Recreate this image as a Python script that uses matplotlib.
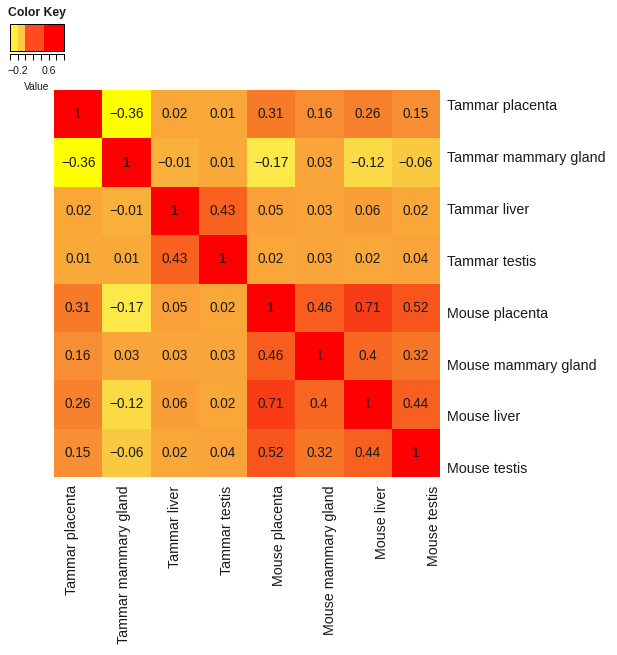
import numpy as np
import matplotlib
matplotlib.use("Agg")
from matplotlib import pyplot as plt
import matplotlib.colors as mcolors

tissues = [
    "Tammar placenta",
    "Tammar mammary gland",
    "Tammar liver",
    "Tammar testis",
    "Mouse placenta",
    "Mouse mammary gland",
    "Mouse liver",
    "Mouse testis",
]

# correlation matrix, rows top to bottom, columns left to right
corr = np.array([
    [1, -0.36, 0.02, 0.01, 0.31, 0.16, 0.26, 0.15],
    [-0.36, 1, -0.01, 0.01, -0.17, 0.03, -0.12, -0.06],
    [0.02, -0.01, 1, 0.43, 0.05, 0.03, 0.06, 0.02],
    [0.01, 0.01, 0.43, 1, 0.02, 0.03, 0.02, 0.04],
    [0.31, -0.17, 0.05, 0.02, 1, 0.46, 0.71, 0.52],
    [0.16, 0.03, 0.03, 0.03, 0.46, 1, 0.4, 0.32],
    [0.26, -0.12, 0.06, 0.02, 0.71, 0.4, 1, 0.44],
    [0.15, -0.06, 0.02, 0.04, 0.52, 0.32, 0.44, 1],
])

# colour key bins
key_breaks = [-0.4, -0.2, 0.0, 0.48, 1.0]
key_colors = ["#FFEF3C", "#FDC946", "#FF4B20", "#FF0000"]
key_ticks = [-0.4, -0.2, 0.0, 0.2, 0.4, 0.6, 0.8, 1.0]
key_labels = ["", "\u22120.2", "", "", "", "0.6", "", ""]

# cell colour ramp
ramp_vals = [-0.36, -0.17, -0.06, 0.0, 0.15, 0.31, 0.43, 0.71, 1.0]
ramp_cols = ["#FFFF00", "#FCE94A", "#FAC942", "#F9AA3A", "#F88F34",
             "#F77A28", "#F8611F", "#F83C16", "#FF0000"]

plt.rcParams["font.family"] = ["Liberation Sans", "DejaVu Sans"]
txt_col = "#1a1a1a"

W, H = 617, 655
fig = plt.figure(figsize=(W / 100, H / 100), dpi=100)


def px_axes(x0, y0, x1, y1):
    return fig.add_axes([x0 / W, 1 - y1 / H, (x1 - x0) / W, (y1 - y0) / H])


lo, hi = ramp_vals[0], ramp_vals[-1]
pos = [(v - lo) / (hi - lo) for v in ramp_vals]
cmap = mcolors.LinearSegmentedColormap.from_list("heat", list(zip(pos, ramp_cols)))

# main heatmap
ax = px_axes(54, 90, 440, 477)
n = len(tissues)
ax.pcolormesh(np.arange(n + 1), np.arange(n + 1), corr, cmap=cmap,
              vmin=lo, vmax=hi)
ax.set_xlim(0, n)
ax.set_ylim(n, 0)
for i in range(n):
    for j in range(n):
        s = f"{corr[i, j]:g}".replace("-", "\u2212")
        ax.text(j + 0.5, i + 0.5, s, ha="center", va="center",
                fontsize=9.8, color=txt_col)

# heatmap.2 style label spacing (slightly off the cell centres)
ax.set_xticks(np.linspace(0.37, 7.87, n))
ax.set_xticklabels(tissues, rotation=90, fontsize=10.3, color=txt_col)
ax.set_yticks(np.linspace(0.31, 7.81, n))
ax.set_yticklabels(tissues, fontsize=10.3, color=txt_col)
ax.yaxis.tick_right()
ax.tick_params(axis="x", length=0, pad=6)
ax.tick_params(axis="y", length=0, pad=5)
for sp in ax.spines.values():
    sp.set_visible(False)

# colour key
kax = px_axes(10, 24, 64, 51)
kax.spines["bottom"].set_position(("outward", 2.5))
kax.pcolormesh(key_breaks, [0, 1], np.array([key_breaks[:-1]]),
               cmap=mcolors.ListedColormap(key_colors),
               norm=mcolors.BoundaryNorm(key_breaks, len(key_colors)))
kax.set_xlim(key_breaks[0], key_breaks[-1])
kax.set_ylim(0, 1)
kax.set_yticks([])
kax.set_xticks(key_ticks)
kax.set_xticklabels(key_labels)
kax.tick_params(axis="x", length=4, width=0.7, pad=4.5, labelsize=7.6,
                labelcolor=txt_col)
for sp in kax.spines.values():
    sp.set_linewidth(0.7)
kax.spines["bottom"].set_bounds(key_ticks[0], key_ticks[-1])
kax.axhline(0, color="black", lw=0.7, clip_on=False)
kax.set_xlabel("Value", fontsize=7.4, labelpad=4, color=txt_col)

fig.text(8 / W, 1 - 13 / H, "Color Key", fontsize=8.8, fontweight="bold",
         ha="left", va="center", color=txt_col)

fig.savefig("out.png", dpi=100)
